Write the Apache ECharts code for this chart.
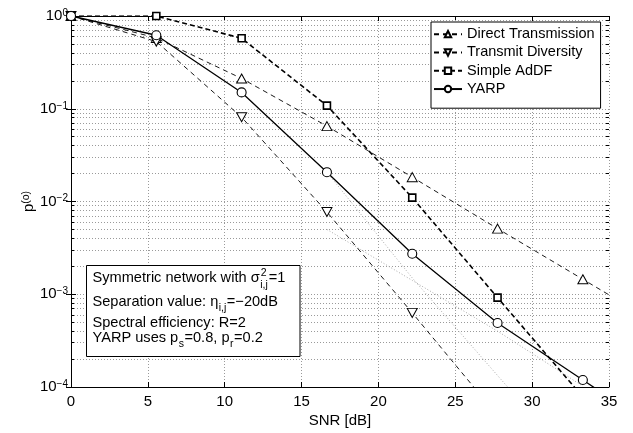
<!DOCTYPE html>
<html><head><meta charset="utf-8">
<script src="https://cdn.jsdelivr.net/npm/echarts@6/dist/echarts.min.js"></script>
<style>html,body{margin:0;padding:0;background:#fff}#c{width:633px;height:433px}</style>
</head><body><div id="c"></div>
<script>
// ---- data ----
const snr = [0, 5.55, 11.1, 16.65, 22.2, 27.75, 33.3, 38.85];
const directTx = [1.0, 0.58, 0.212, 0.065, 0.0183, 0.0051, 0.00145, 0.00041];
const transmitDiv = [1.0, 0.53, 0.081, 0.0077, 0.00063, 0.000049];
const simpleAdDF = [1.0, 1.0, 0.575, 0.108, 0.011, 0.00092, 0.000078];
const yarp = [1.0, 0.62, 0.15, 0.0207, 0.00273, 0.00049, 0.000119, 0.000029];
const refSnr = [16.65, 22.2, 27.75, 33.3];
const refA = [0.0207, 0.0015, 0.000133, 0.000012];
const refB = [0.005, 0.00141, 0.0004, 0.000102];
const seriesNames = ['Direct Transmission', 'Transmit Diversity', 'Simple AdDF', 'YARP'];
const xTickValues = [0, 5, 10, 15, 20, 25, 30, 35];
const yDecades = [-4, -3, -2, -1, 0];

const F = '"Liberation Sans", Arial, Helvetica, sans-serif';
const pairs = (xs, ys) => ys.map((y, i) => [xs[i], y]);

// minor log grid positions (2..9 x 10^k)
const minorVals = [];
for (let k = yDecades[0]; k < yDecades[yDecades.length - 1]; k++) {
  for (let m = 2; m <= 9; m++) minorVals.push(m * Math.pow(10, k));
}
const gridStyle = { color: '#9a9a9a', type: [1, 2], width: 1 };
const tickStyle = { color: '#000', type: 'solid', width: 1 };
const markData = [];
minorVals.forEach(v => {
  markData.push([{ coord: [0, v], lineStyle: gridStyle }, { coord: [35, v] }]);
  markData.push([{ coord: [0, v], lineStyle: tickStyle }, { coord: [0.2, v] }]);
  markData.push([{ coord: [34.8, v], lineStyle: tickStyle }, { coord: [35, v] }]);
});

// text measuring for the annotation box
const cv = document.createElement('canvas').getContext('2d');
function tw(t, s) { cv.font = s + 'px ' + F; return cv.measureText(t).width; }
function txt(t, x, y, s) {
  return { type: 'text', x: x, y: y, z: 101,
    style: { text: t, fontSize: s, fontFamily: F, fill: '#000', align: 'left', verticalAlign: 'middle' } };
}
const G = [];
G.push({ type: 'rect', z: 100, shape: { x: 86.5, y: 265.5, width: 213.5, height: 91 },
  style: { fill: '#fff', stroke: '#000', lineWidth: 1 } });
const X0 = 92.5, BS = 14.6, SS = 10.5;
// line 1
let x = X0, t = 'Symmetric network with \u03c3';
G.push(txt(t, x, 278, BS)); x += tw(t, BS);
G.push(txt('2', x + 1, 273, SS)); G.push(txt('i,j', x + 0.5, 285, SS));
x += Math.max(tw('i,j', SS), tw('2', SS)) + 1.5;
G.push(txt('=1', x, 278, BS));
// line 2
x = X0; t = 'Separation value: \u03b7';
G.push(txt(t, x, 301.5, BS)); x += tw(t, BS);
G.push(txt('i,j', x + 0.5, 308, SS)); x += tw('i,j', SS) + 1;
G.push(txt('=\u221220dB', x, 301.5, BS));
// line 3
G.push(txt('Spectral efficiency: R=2', X0, 323, BS));
// line 4
x = X0; t = 'YARP uses p';
G.push(txt(t, x, 337.5, BS)); x += tw(t, BS);
G.push(txt('s', x + 0.5, 344, SS)); x += tw('s', SS) + 1;
t = '=0.8, p'; G.push(txt(t, x, 337.5, BS)); x += tw(t, BS);
G.push(txt('r', x + 0.5, 344, SS)); x += tw('r', SS) + 1;
G.push(txt('=0.2', x, 337.5, BS));

const thinDash = { color: '#000', width: 0.9, type: [5, 4] };
const hollow = { color: '#fff', borderColor: '#000', borderWidth: 1 };
const common = { type: 'line', clip: true, animation: false, z: 3, emphasis: { disabled: true } };

const chart = echarts.init(document.getElementById('c'), null, { renderer: 'canvas' });
chart.setOption({
  animation: false,
  backgroundColor: '#fff',
  grid: { left: 71, right: 24, top: 16, bottom: 41 },
  legend: {
    data: seriesNames, orient: 'vertical', left: 431, top: 22,
    backgroundColor: '#fff', borderColor: '#000', borderWidth: 1,
    padding: [3, 6, 10, 2], itemGap: 0, itemWidth: 28, itemHeight: 8,
    textStyle: { fontSize: 14.5, color: '#000', fontFamily: F, lineHeight: 18.3 }, z: 50
  },
  xAxis: [{
    type: 'value', min: 0, max: 35, interval: 5,
    name: 'SNR [dB]', nameLocation: 'middle', nameGap: 26, nameMoveOverlap: false,
    nameTextStyle: { fontSize: 15, color: '#000', fontFamily: F },
    axisLine: { show: true, lineStyle: { color: '#000', width: 1 } },
    axisTick: { show: true, inside: true, length: 5, lineStyle: { color: '#000' } },
    axisLabel: { fontSize: 15, color: '#000', fontFamily: F, margin: 7,
      customValues: xTickValues, formatter: v => String(v) },
    splitLine: { show: true, lineStyle: gridStyle }
  }, {
    type: 'value', min: 0, max: 35, interval: 5, position: 'top',
    axisLine: { show: true, onZero: false, lineStyle: { color: '#000', width: 1 } },
    axisTick: { show: true, inside: true, length: 5, lineStyle: { color: '#000' } },
    axisLabel: { show: false }, splitLine: { show: false }
  }],
  yAxis: [{
    type: 'log', logBase: 10, min: 1e-4, max: 1,
    name: '{p|p}{s|(o)}', nameLocation: 'middle', nameGap: 35, nameRotate: 90, nameMoveOverlap: false,
    nameTextStyle: { color: '#000', fontFamily: F,
      rich: { p: { fontSize: 15, fontFamily: F, color: '#000' },
              s: { fontSize: 10.5, fontFamily: F, color: '#000', verticalAlign: 'top' } } },
    axisLine: { show: true, lineStyle: { color: '#000', width: 1 } },
    axisTick: { show: true, inside: true, length: 5, lineStyle: { color: '#000' } },
    axisLabel: { margin: 3, color: '#000',
      formatter: v => { const e = Math.round(Math.log10(v)); return '{b|10}{s|' + (e < 0 ? '\u2212' + (-e) : e) + '}'; },
      rich: { b: { fontSize: 15, fontFamily: F, color: '#000', lineHeight: 16 },
              s: { fontSize: 10, fontFamily: F, color: '#000', verticalAlign: 'top' } } },
    splitLine: { show: true, lineStyle: gridStyle },
    minorTick: { show: false }
  }, {
    type: 'log', logBase: 10, min: 1e-4, max: 1, position: 'right',
    axisLine: { show: true, lineStyle: { color: '#000', width: 1 } },
    axisTick: { show: true, inside: true, length: 5, lineStyle: { color: '#000' } },
    axisLabel: { show: false }, splitLine: { show: false }
  }],
  series: [
    Object.assign({}, common, {
      name: 'refA', data: pairs(refSnr, refA), showSymbol: false, symbol: 'none',
      lineStyle: { color: '#aaaaaa', width: 1, type: [1, 2] }, z: 2,
      markLine: { silent: true, symbol: ['none', 'none'], label: { show: false }, animation: false, z: 1, data: markData }
    }),
    Object.assign({}, common, {
      name: 'refB', data: pairs(refSnr, refB), showSymbol: false, symbol: 'none',
      lineStyle: { color: '#aaaaaa', width: 1, type: [1, 2] }, z: 2
    }),
    Object.assign({}, common, {
      name: seriesNames[0], data: pairs(snr, directTx),
      symbol: 'triangle', symbolSize: [10, 9], itemStyle: hollow, lineStyle: thinDash
    }),
    Object.assign({}, common, {
      name: seriesNames[1], data: pairs(snr, transmitDiv),
      symbol: 'path://M0,0 L10,0 L5,9 Z', symbolSize: [10, 9], itemStyle: hollow, lineStyle: thinDash
    }),
    Object.assign({}, common, {
      name: seriesNames[2], data: pairs(snr, simpleAdDF),
      symbol: 'rect', symbolSize: 7, itemStyle: { color: '#fff', borderColor: '#000', borderWidth: 1.6 },
      lineStyle: { color: '#000', width: 1.6, type: [5, 3] }
    }),
    Object.assign({}, common, {
      name: seriesNames[3], data: pairs(snr, yarp),
      symbol: 'circle', symbolSize: 9, itemStyle: { color: '#fff', borderColor: '#000', borderWidth: 1.1 },
      lineStyle: { color: '#000', width: 1.3, type: 'solid' }
    })
  ],
  graphic: G
});
</script></body></html>
